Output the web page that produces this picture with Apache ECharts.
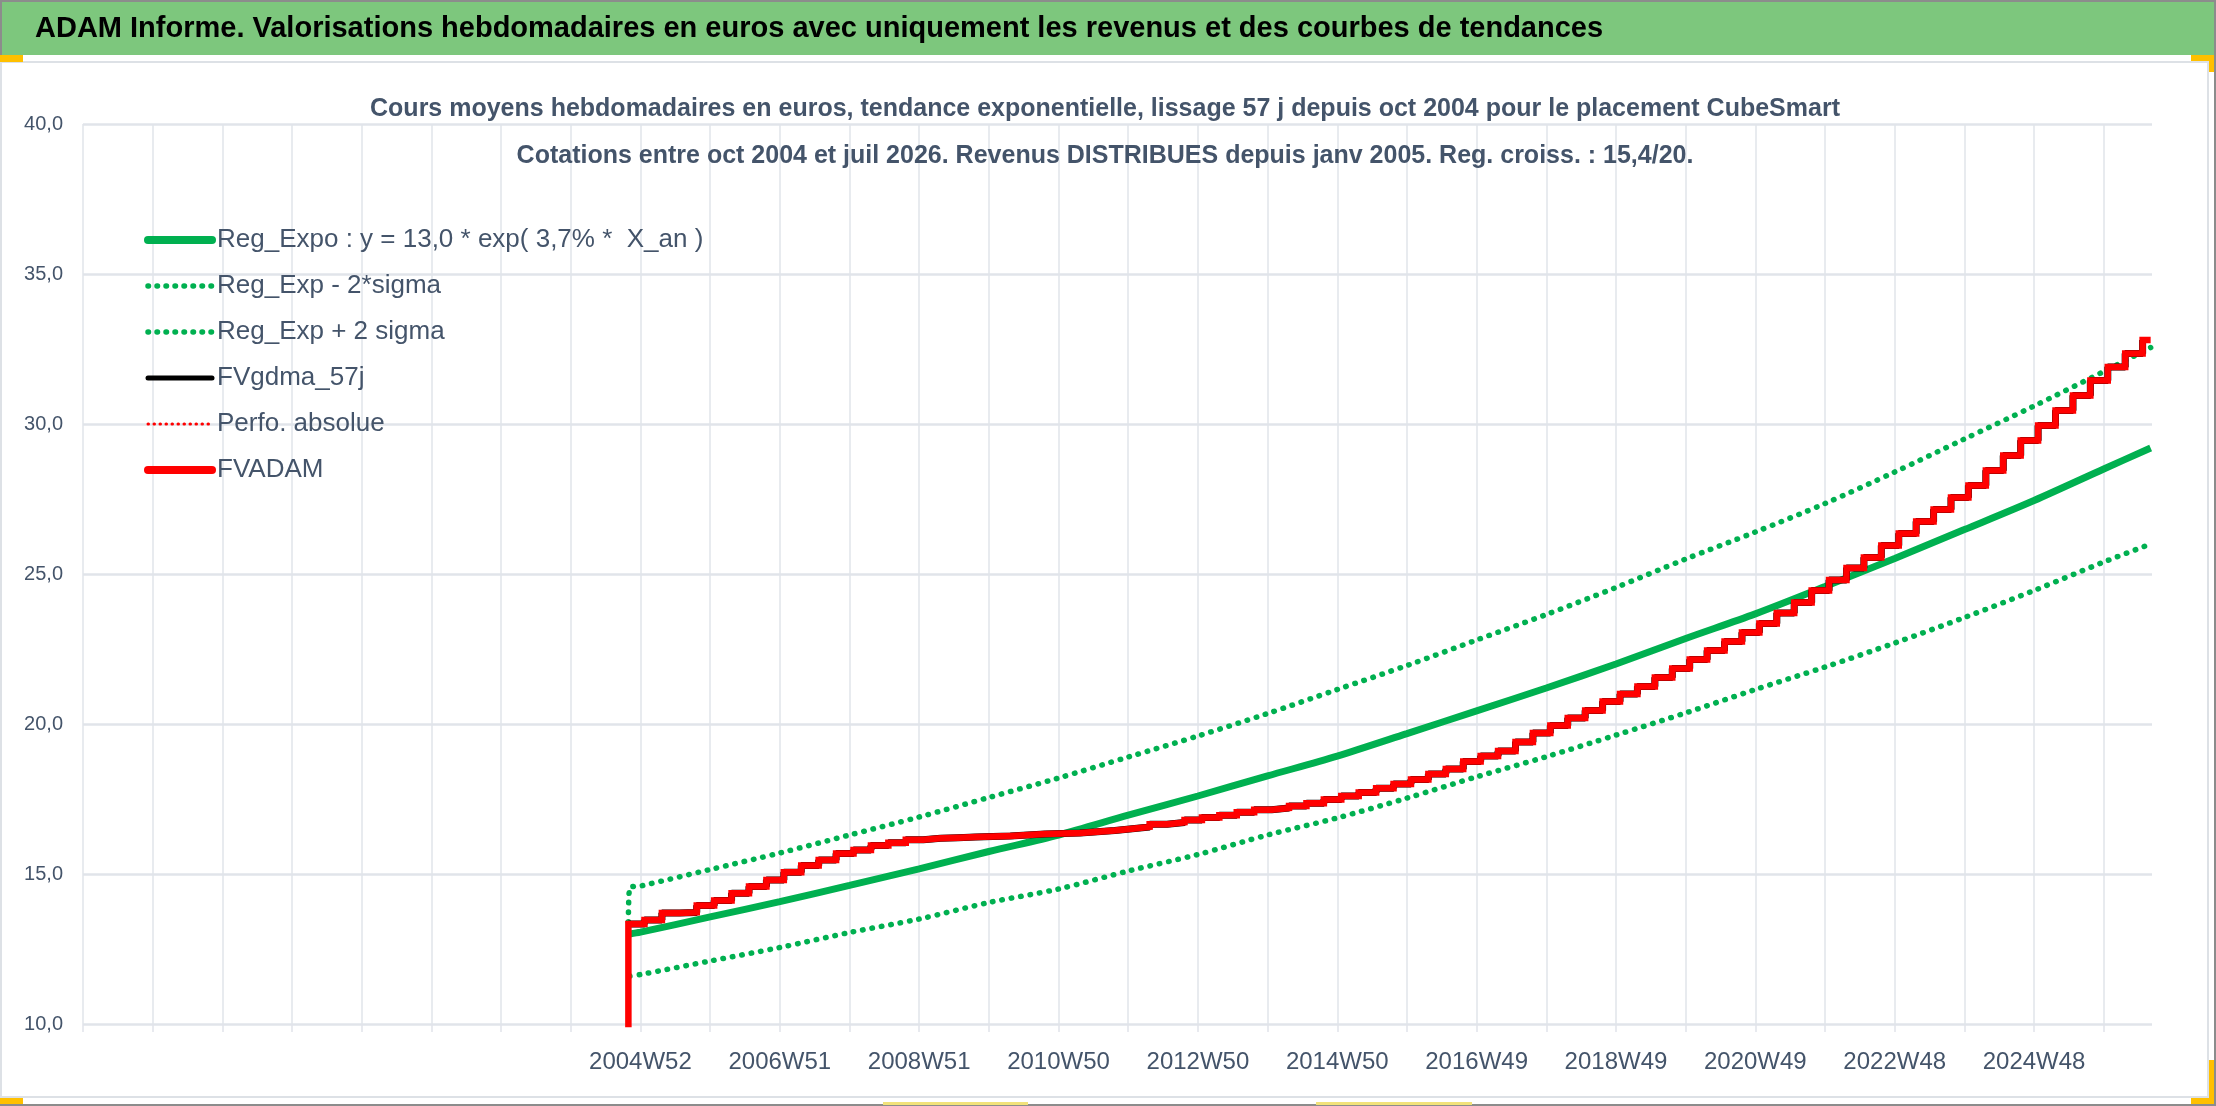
<!DOCTYPE html>
<html>
<head>
<meta charset="utf-8">
<title>ADAM Informe - CubeSmart</title>
<script src="https://cdn.jsdelivr.net/npm/echarts@6/dist/echarts.min.js"></script>
<style>
  html, body { margin: 0; padding: 0; background: #ffffff; }
  #chart { width: 2216px; height: 1106px; }
</style>
</head>
<body>
<div id="chart"></div>
<script>
// Semaines comptées depuis 2004W52 (0 = 2004W52)
const xTickLabels = ['2004W52', '2006W51', '2008W51', '2010W50', '2012W50', '2014W50',
                     '2016W49', '2018W49', '2020W49', '2022W48', '2024W48'];

// points des courbes de tendance (semaines)
const trendWeeks = [-8, 0, 52, 104, 156, 208, 260, 312, 364, 416, 468, 520, 572,
                    624, 676, 728, 780, 832, 884, 936, 988, 1040, 1092, 1127];
const regExpo = [13.0, 13.06, 13.57, 14.08, 14.62, 15.17, 15.75, 16.3, 16.96, 17.6, 18.27, 18.93,
                 19.68, 20.44, 21.2, 22.0, 22.85, 23.67, 24.58, 25.52, 26.48, 27.45, 28.5, 29.2];
const regMinus2Sigma = [11.6, 11.65, 12.1, 12.55, 13.05, 13.5, 14.05, 14.5, 15.1, 15.65, 16.3, 16.87,
                        17.53, 18.24, 18.91, 19.63, 20.37, 21.15, 21.9, 22.7, 23.55, 24.45, 25.4, 26.0];
const regPlus2Sigma = [14.55, 14.6, 15.15, 15.7, 16.3, 16.9, 17.55, 18.2, 18.9, 19.6, 20.35, 21.15,
                       21.95, 22.8, 23.65, 24.55, 25.5, 26.4, 27.35, 28.4, 29.5, 30.6, 31.75, 32.55];
const plusSigmaFirst = 13.4;

// FVADAM : premier cours (oct 2004) puis un palier par trimestre (distribution)
const dataStartWeek = -9;
const fvadamFirst = 13.33;
const firstQuarterWeek = 3;
const fvadamQuarterly = [
  13.47, 13.7, 13.72, 13.95, 14.12, 14.36, 14.58, 14.8, 15.06, 15.28,
  15.47, 15.68, 15.8, 15.95, 16.04, 16.14, 16.19, 16.21, 16.23, 16.25,
  16.27, 16.3, 16.33, 16.35, 16.37, 16.41, 16.45, 16.51, 16.57, 16.66,
  16.72, 16.8, 16.88, 16.96, 17.06, 17.14, 17.2, 17.27, 17.36, 17.48,
  17.6, 17.72, 17.86, 18.0, 18.15, 18.33, 18.5, 18.75, 18.93, 19.1,
  19.4, 19.7, 19.95, 20.2, 20.45, 20.75, 21.0, 21.25, 21.55, 21.85,
  22.15, 22.45, 22.75, 23.05, 23.35, 23.7, 24.05, 24.45, 24.8, 25.2,
  25.55, 25.95, 26.35, 26.75, 27.15, 27.55, 27.95, 28.45, 28.95, 29.45,
  29.95, 30.45, 30.95, 31.45, 31.9, 32.35, 32.8
];
const lastWeek = 1127;

const seriesNames = ['Reg_Expo : y = 13,0 * exp( 3,7% *  X_an )', 'Reg_Exp - 2*sigma',
                     'Reg_Exp + 2 sigma', 'FVgdma_57j', 'Perfo. absolue', 'FVADAM'];

const FONT = "'Liberation Sans', Arial, sans-serif";
const TXT = '#44546A';
const GREEN = '#00B050';
const RED = '#FF0000';
const DOTS = [0.5, 9];
const NO_SYMBOL = { color: 'rgba(0,0,0,0)', borderWidth: 0, opacity: 0 };

// construction des séries
const pair = (xs, ys) => xs.map((x, i) => [x, ys[i]]);
const quarterPts = fvadamQuarterly.map((v, j) => [firstQuarterWeek + 13 * j, v]);
const fvadamData = [[dataStartWeek, 0], [dataStartWeek, fvadamFirst]]
  .concat(quarterPts, [[lastWeek, fvadamQuarterly[fvadamQuarterly.length - 1]]]);
const fvgdmaData = [[dataStartWeek, fvadamFirst]].concat(quarterPts);
const plusData = [[dataStartWeek, plusSigmaFirst]].concat(pair(trendWeeks, regPlus2Sigma));

const myChart = echarts.init(document.getElementById('chart'), null, { renderer: 'canvas' });

const option = {
  backgroundColor: '#ffffff',
  animation: false,
  title: {
    text: 'Cours moyens hebdomadaires en euros, tendance exponentielle, lissage 57 j depuis oct 2004 pour le placement CubeSmart\n' +
          'Cotations entre oct 2004 et juil 2026. Revenus DISTRIBUES depuis janv 2005. Reg. croiss. : 15,4/20.',
    left: 1105,
    top: 86,
    textAlign: 'center',
    padding: 0,
    textStyle: {
      fontFamily: FONT,
      fontSize: 25,
      fontWeight: 'bold',
      color: TXT,
      lineHeight: 47
    }
  },
  graphic: [
    { type: 'rect', shape: { x: 1, y: 1, width: 2214, height: 1104 },
      style: { fill: 'none', stroke: '#8c8c8c', lineWidth: 2 } },
    { type: 'rect', shape: { x: 2, y: 2, width: 2212, height: 53 },
      style: { fill: '#7DC77D' } },
    { type: 'text', x: 35, y: 29,
      style: { text: 'ADAM Informe. Valorisations hebdomadaires en euros avec uniquement les revenus et des courbes de tendances',
               fill: '#000000', font: "bold 29px 'Liberation Sans', Arial, sans-serif",
               textVerticalAlign: 'middle' } },
    { type: 'rect', shape: { x: 1, y: 62, width: 2207, height: 1035 },
      style: { fill: 'none', stroke: '#DDE1E6', lineWidth: 2 } },
    { type: 'rect', shape: { x: 0, y: 55, width: 23, height: 7 }, style: { fill: '#FFC000' } },
    { type: 'rect', shape: { x: 2191, y: 55, width: 23, height: 6 }, style: { fill: '#FFC000' } },
    { type: 'rect', shape: { x: 2209, y: 55, width: 5, height: 17 }, style: { fill: '#FFC000' } },
    { type: 'rect', shape: { x: 2209, y: 1060, width: 5, height: 44 }, style: { fill: '#FFC000' } },
    { type: 'rect', shape: { x: 2191, y: 1098, width: 23, height: 6 }, style: { fill: '#FFC000' } },
    { type: 'rect', shape: { x: 0, y: 1098, width: 23, height: 6 }, style: { fill: '#FFC000' } },
    { type: 'rect', shape: { x: 883, y: 1102, width: 145, height: 3 }, style: { fill: '#F2E27A' } },
    { type: 'rect', shape: { x: 1316, y: 1102, width: 156, height: 3 }, style: { fill: '#F2E27A' } }
  ],
  legend: {
    orient: 'vertical',
    left: 139,
    top: 222,
    itemWidth: 64,
    itemHeight: 20,
    itemGap: 20,
    selectedMode: false,
    textStyle: { fontFamily: FONT, fontSize: 26, color: TXT },
    data: [
      { name: seriesNames[0], lineStyle: { color: GREEN, width: 8, cap: 'round' }, itemStyle: NO_SYMBOL },
      { name: seriesNames[1], lineStyle: { color: GREEN, width: 5.5, type: [0.5, 8.5], cap: 'round' }, itemStyle: NO_SYMBOL },
      { name: seriesNames[2], lineStyle: { color: GREEN, width: 5.5, type: [0.5, 8.5], cap: 'round' }, itemStyle: NO_SYMBOL },
      { name: seriesNames[3], lineStyle: { color: '#000000', width: 5, cap: 'round' }, itemStyle: NO_SYMBOL },
      { name: seriesNames[4], lineStyle: { color: RED, width: 3, type: [0.5, 5.5], cap: 'round' }, itemStyle: NO_SYMBOL },
      { name: seriesNames[5], lineStyle: { color: RED, width: 8, cap: 'round' }, itemStyle: NO_SYMBOL }
    ]
  },
  grid: { left: 83, right: 64, top: 124, bottom: 82, containLabel: false },
  xAxis: {
    type: 'value',
    min: -416,
    max: 1128,
    interval: 52,
    axisLine: { show: false },
    axisTick: { show: true, length: 8, lineStyle: { color: '#E1E4EA', width: 1.5 } },
    splitLine: { show: true, showMaxLine: false, lineStyle: { color: '#E1E4EA', width: 1.5 } },
    axisLabel: {
      margin: 26,
      fontFamily: FONT,
      fontSize: 24,
      color: TXT,
      showMaxLabel: false,
      formatter: function (v) {
        if (v >= 0 && v % 104 === 0) {
          return xTickLabels[v / 104] || '';
        }
        return '';
      }
    }
  },
  yAxis: {
    type: 'value',
    min: 10,
    max: 40,
    interval: 5,
    axisLine: { show: false },
    axisTick: { show: false },
    splitLine: { lineStyle: { color: '#E1E4EA', width: 2.5 } },
    axisLabel: {
      margin: 20,
      fontFamily: FONT,
      fontSize: 20,
      color: TXT,
      formatter: v => v.toFixed(1).replace('.', ',')
    }
  },
  series: [
    {
      name: seriesNames[0], type: 'line', symbol: 'none', smooth: 0.3,
      data: pair(trendWeeks, regExpo),
      lineStyle: { color: GREEN, width: 7 }, itemStyle: { color: GREEN }, z: 2
    },
    {
      name: seriesNames[1], type: 'line', symbol: 'none', smooth: 0.3,
      data: pair(trendWeeks, regMinus2Sigma),
      lineStyle: { color: GREEN, width: 5.5, type: DOTS, cap: 'round' }, itemStyle: { color: GREEN }, z: 2
    },
    {
      name: seriesNames[2], type: 'line', symbol: 'none', smooth: 0.3,
      data: plusData,
      lineStyle: { color: GREEN, width: 5.5, type: DOTS, cap: 'round' }, itemStyle: { color: GREEN }, z: 2
    },
    {
      name: seriesNames[3], type: 'line', symbol: 'none', step: 'end',
      data: fvgdmaData,
      lineStyle: { color: '#000000', width: 7 }, itemStyle: { color: '#000000' }, z: 3
    },
    {
      name: seriesNames[4], type: 'line', symbol: 'none',
      data: [],
      lineStyle: { color: RED, width: 2.5, type: 'dotted' }, itemStyle: { color: RED }, z: 3
    },
    {
      name: seriesNames[5], type: 'line', symbol: 'none', step: 'end',
      data: fvadamData,
      lineStyle: { color: RED, width: 6.5, join: 'miter' }, itemStyle: { color: RED }, z: 4
    }
  ]
};

myChart.setOption(option);

window.addEventListener('resize', function () {
  myChart.resize();
});
</script>
</body>
</html>
